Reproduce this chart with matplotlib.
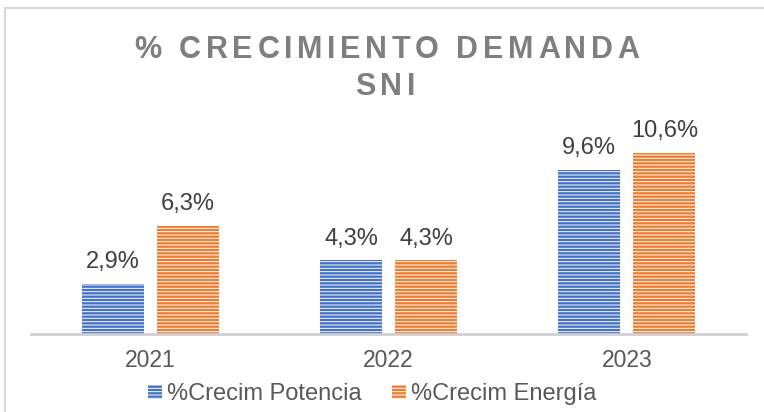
import matplotlib
matplotlib.use("Agg")
import matplotlib.pyplot as plt
from matplotlib import font_manager, ft2font
from matplotlib.font_manager import FontProperties
from matplotlib.patches import Rectangle
import numpy as np

# datos
years = ["2021", "2022", "2023"]
potencia = [2.9, 4.3, 9.6]
energia = [6.3, 4.3, 10.6]
series_names = ["%Crecim Potencia", "%Crecim Energía"]
title_lines = ["% CRECIMIENTO DEMANDA", "SNI"]

blue = "#4472C4"
orange = "#ED7D31"

plt.rcParams['font.family'] = ['Liberation Sans', 'DejaVu Sans']
plt.rcParams['hatch.linewidth'] = 0.7

W, H, DPI = 764, 412, 100
fig = plt.figure(figsize=(W / DPI, H / DPI), dpi=DPI)

# marco del grafico
fig.patches.append(Rectangle((5 / W, -0.1), 1.2, 1 - 8 / H + 0.1,
                             transform=fig.transFigure, fill=False,
                             edgecolor="#d9d9d9", linewidth=1.5, zorder=0))

ax = fig.add_axes([31 / W, 1 - 334 / H, 715 / W, 224 / H])

x = np.arange(len(years))
w = 0.26
gap = 0.055
b1 = ax.bar(x - (w + gap) / 2, potencia, w, color=blue, edgecolor="white",
            linewidth=0, hatch="-----")
b2 = ax.bar(x + (w + gap) / 2, energia, w, color=orange, edgecolor="white",
            linewidth=0, hatch="-----")

for bars, vals in ((b1, potencia), (b2, energia)):
    for rect, v in zip(bars, vals):
        ax.annotate(f"{v:.1f}%".replace(".", ","),
                    (rect.get_x() + rect.get_width() / 2, rect.get_height()),
                    xytext=(0, 11.5), textcoords="offset points",
                    ha="center", va="baseline", fontsize=17, color="#404040")

ax.set_xlim(-0.5, 2.5)
ax.set_ylim(0, 13.1)
ax.set_xticks(x)
ax.set_xticklabels(years, fontsize=16.5, color="#595959")
ax.tick_params(axis="x", length=0, pad=11)
ax.set_yticks([])
for s in ("top", "right", "left"):
    ax.spines[s].set_visible(False)
ax.spines["bottom"].set_color("#d0d0d0")
ax.spines["bottom"].set_linewidth(2)

# titulo con espaciado entre letras (letra por letra)
fp = FontProperties(family="Liberation Sans", weight="bold")
ft = ft2font.FT2Font(font_manager.findfont(fp))
t_size = 22
ft.set_size(t_size, DPI)
tracking = 4.6  # px


def spaced_text(s, xc, yb):
    adv = [ft.load_char(ord(c)).linearHoriAdvance / 65536 for c in s]
    total = sum(adv) + tracking * (len(s) - 1)
    xp = xc - total / 2
    for c, a in zip(s, adv):
        fig.text(xp / W, 1 - yb / H, c, ha="left", va="baseline",
                 fontproperties=fp, fontsize=t_size, color="#7f7f7f")
        xp += a + tracking


spaced_text(title_lines[0], 387, 58)
spaced_text(title_lines[1], 385, 95)

fig.legend([b1[0], b2[0]], series_names, loc="center",
           bbox_to_anchor=(372 / W, 1 - 394 / H), ncol=2, frameon=False,
           fontsize=17, labelcolor="#595959", handlelength=0.6,
           handleheight=0.55, handletextpad=0.2, columnspacing=1.3,
           borderpad=0, borderaxespad=0)

fig.savefig("out.png", dpi=DPI)
